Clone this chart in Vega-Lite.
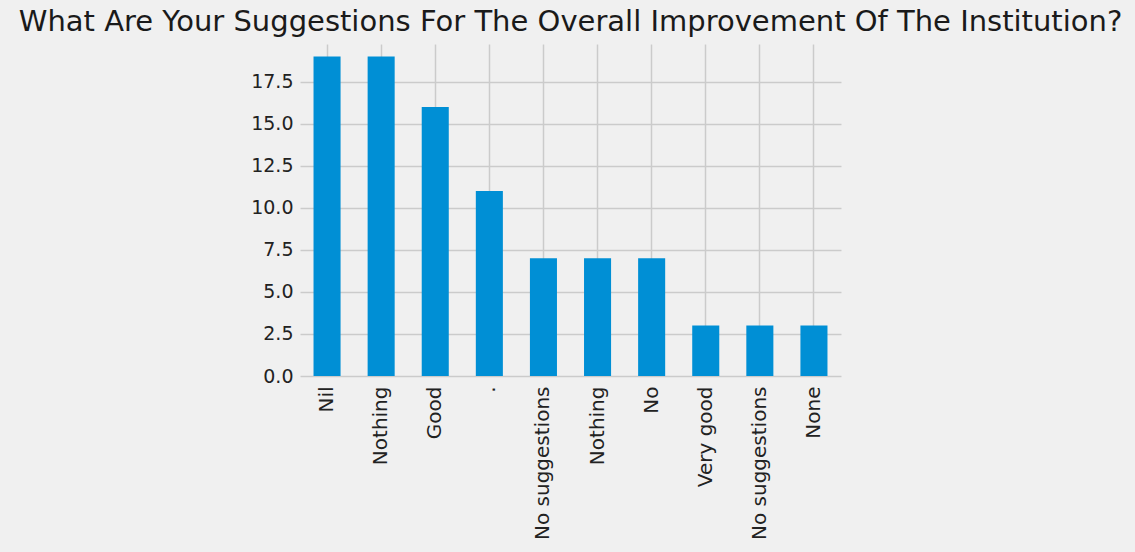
{
  "$schema": "https://vega.github.io/schema/vega-lite/v6.json",
  "autosize": "none",
  "width": 541,
  "height": 332,
  "padding": {"left": 300, "top": 44, "right": 294, "bottom": 176},
  "background": "#f0f0f0",
  "config": {
    "view": {"stroke": null, "fill": "#f0f0f0"},
    "font": "DejaVu Sans"
  },
  "title": {
    "text": "What Are Your Suggestions For The Overall Improvement Of The Institution?",
    "anchor": "middle",
    "frame": "group",
    "fontSize": 29,
    "fontWeight": "normal",
    "color": "#1a1a1a",
    "font": "DejaVu Sans",
    "offset": 7
  },
  "data": {
    "values": [
      {"key": "Nil|1", "count": 19},
      {"key": "Nothing|1", "count": 19},
      {"key": "Good|1", "count": 16},
      {"key": ".|1", "count": 11},
      {"key": "No suggestions|1", "count": 7},
      {"key": "Nothing|2", "count": 7},
      {"key": "No|1", "count": 7},
      {"key": "Very good|1", "count": 3},
      {"key": "No suggestions|2", "count": 3},
      {"key": "None|1", "count": 3}
    ]
  },
  "mark": {"type": "bar", "color": "#008fd5"},
  "encoding": {
    "x": {
      "field": "key",
      "type": "nominal",
      "sort": null,
      "scale": {"paddingInner": 0.5, "paddingOuter": 0.25},
      "axis": {
        "title": null,
        "labelExpr": "split(datum.label, '|')[0]",
        "labelAngle": -90,
        "labelAlign": "right",
        "labelBaseline": "middle",
        "labelFontSize": 20,
        "labelColor": "#222222",
        "labelPadding": 10,
        "labelLimit": 300,
        "domain": false,
        "ticks": false,
        "grid": true,
        "gridColor": "#cbcbcb",
        "gridWidth": 1.5,
        "bandPosition": 0.5
      }
    },
    "y": {
      "field": "count",
      "type": "quantitative",
      "scale": {"domain": [0, 19.74], "nice": false, "zero": true},
      "axis": {
        "title": null,
        "values": [0, 2.5, 5, 7.5, 10, 12.5, 15, 17.5],
        "format": ".1f",
        "labelFontSize": 19,
        "labelColor": "#222222",
        "labelPadding": 7,
        "domain": false,
        "ticks": false,
        "grid": true,
        "gridColor": "#cbcbcb",
        "gridWidth": 1.5
      }
    }
  }
}
